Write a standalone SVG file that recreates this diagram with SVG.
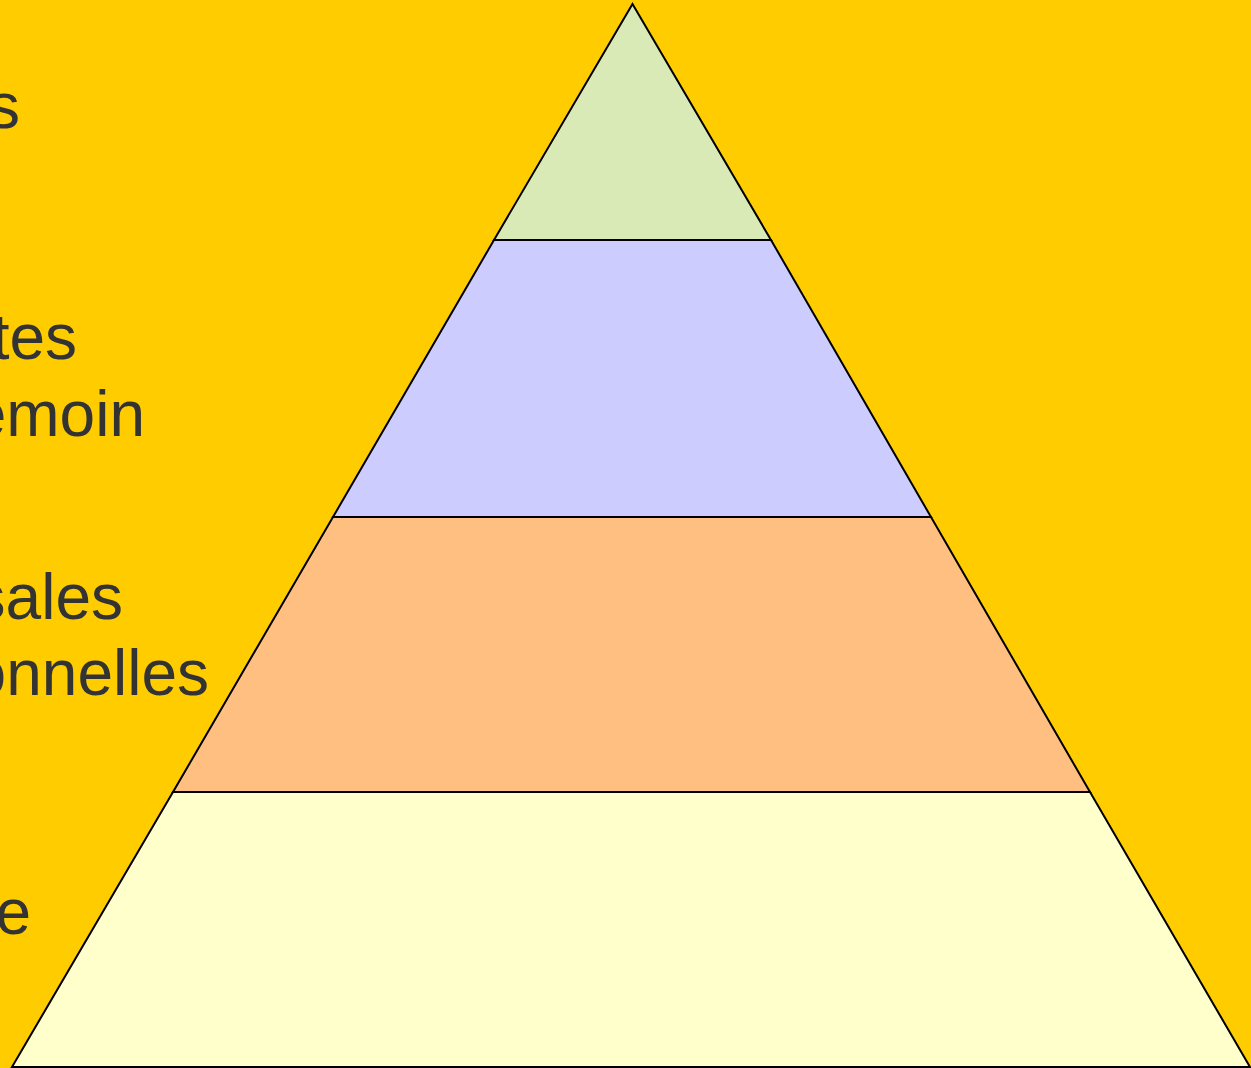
<svg xmlns="http://www.w3.org/2000/svg" width="1251" height="1068" viewBox="0 0 1251 1068">
<style>
.lbl{font-family:"Liberation Sans",Arial,sans-serif;font-size:64px;fill:#333333;text-anchor:end}
.layer{stroke:#000000;stroke-width:2;stroke-linejoin:miter}
</style>
<rect x="0" y="0" width="1251" height="1068" fill="#FFCC00"/>
<g id="labels">
<text class="lbl" x="20" y="128">s</text>
<text class="lbl" x="77" y="359">tes</text>
<text class="lbl" x="145" y="436">emoin</text>
<text class="lbl" x="123" y="619">sales</text>
<text class="lbl" x="209" y="695">onnelles</text>
<text class="lbl" x="31" y="934">e</text>
</g>
<g id="layer4"><polygon class="layer" fill="#FFFFCC" points="173,792 1090,792 1250,1067 12,1067"/></g>
<g id="layer3"><polygon class="layer" fill="#FFBF80" points="333,517 931,517 1090,792 173,792"/></g>
<g id="layer2"><polygon class="layer" fill="#CCCCFF" points="494,240 771,240 931,517 333,517"/></g>
<g id="layer1"><polygon class="layer" fill="#D9EAB6" points="632.5,4 771,240 494,240"/></g>
</svg>
